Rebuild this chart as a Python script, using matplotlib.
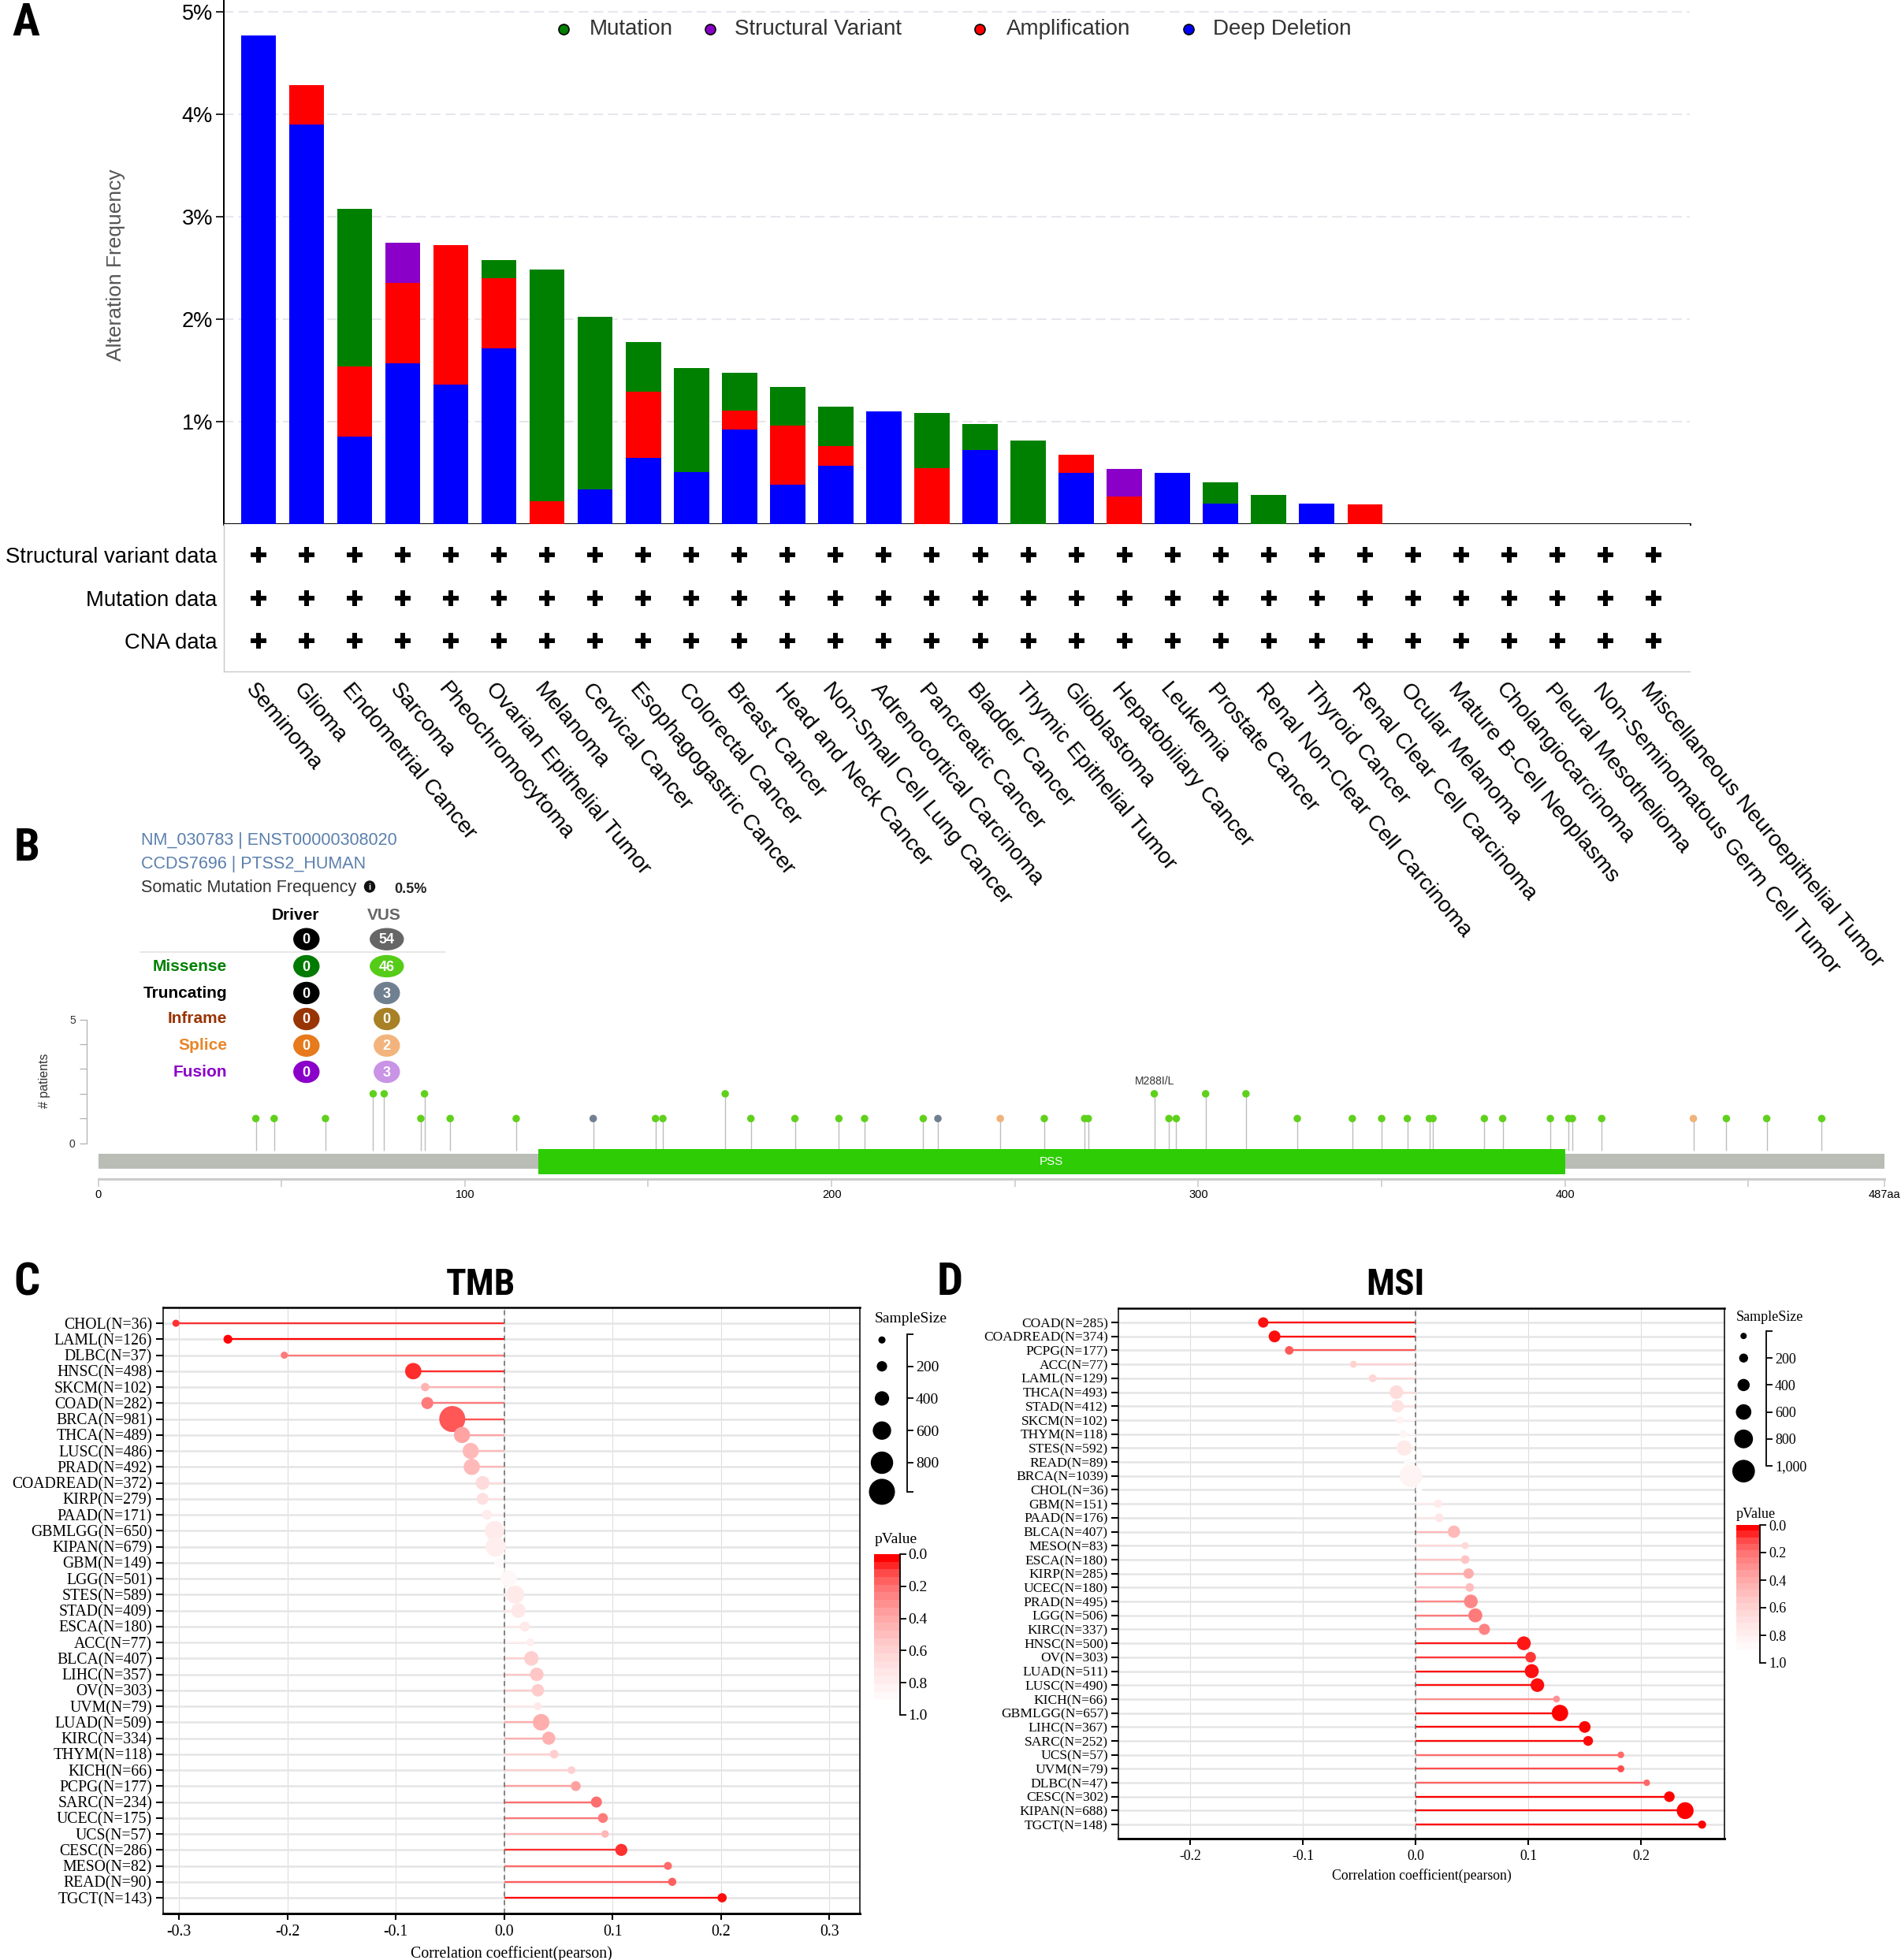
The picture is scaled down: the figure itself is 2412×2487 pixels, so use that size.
#!/usr/bin/env python3
"""Four-panel figure: cBioPortal alteration summary, lollipop, TMB / MSI correlations."""

import matplotlib

matplotlib.use("Agg")
import matplotlib.pyplot as plt
import numpy as np
from matplotlib import font_manager
from matplotlib.colors import LinearSegmentedColormap
from matplotlib.font_manager import FontProperties
from matplotlib.patches import Ellipse, Rectangle
from matplotlib.transforms import ScaledTranslation

W, H, DPI = 2412, 2487, 100

_fonts = font_manager.fontManager.ttflist
_names = {f.name for f in _fonts}
SANS = "Liberation Sans" if "Liberation Sans" in _names else "DejaVu Sans"
SERIF = "Liberation Serif" if "Liberation Serif" in _names else "DejaVu Serif"
plt.rcParams["font.family"] = [SANS, "DejaVu Sans"]


def _find_narrow_bold():
    """Path of a condensed bold sans face, if one is installed."""
    def is_bold(f):
        w = f.weight
        return (isinstance(w, (int, float)) and w >= 600) or str(w).lower() in ("bold", "heavy")
    cands = [f for f in _fonts
             if is_bold(f) and ("narrow" in f.fname.lower() or "condensed" in f.fname.lower()
                                or "narrow" in f.name.lower() or "condensed" in f.name.lower())
             and "oblique" not in f.fname.lower() and "italic" not in f.fname.lower()]
    order = ["liberation", "arial", "roboto", "dejavu", "open"]
    cands.sort(key=lambda f: next((i for i, k in enumerate(order) if k in f.fname.lower()), 9))
    return cands[0].fname if cands else None


_NARROW_PATH = _find_narrow_bold()


def narrow_bold(size):
    if _NARROW_PATH:
        return FontProperties(fname=_NARROW_PATH, size=size)
    return FontProperties(family=SANS, weight="bold", size=size * 0.88)


# ---------------------------------------------------------------- panel A data
CANCERS = [
    "Seminoma", "Glioma", "Endometrial Cancer", "Sarcoma", "Pheochromocytoma",
    "Ovarian Epithelial Tumor", "Melanoma", "Cervical Cancer", "Esophagogastric Cancer",
    "Colorectal Cancer", "Breast Cancer", "Head and Neck Cancer",
    "Non-Small Cell Lung Cancer", "Adrenocortical Carcinoma", "Pancreatic Cancer",
    "Bladder Cancer", "Thymic Epithelial Tumor", "Glioblastoma", "Hepatobiliary Cancer",
    "Leukemia", "Prostate Cancer", "Renal Non-Clear Cell Carcinoma", "Thyroid Cancer",
    "Renal Clear Cell Carcinoma", "Ocular Melanoma", "Mature B-Cell Neoplasms",
    "Cholangiocarcinoma", "Pleural Mesothelioma", "Non-Seminomatous Germ Cell Tumor",
    "Miscellaneous Neuroepithelial Tumor",
]
# alteration frequency (%) per alteration type, stacked in this order
DEEP_DELETION = [4.766, 3.897, 0.852, 1.566, 1.360, 1.713, 0.0, 0.336, 0.642, 0.505,
                 0.920, 0.381, 0.570, 1.100, 0.0, 0.724, 0.0, 0.501, 0.0, 0.494,
                 0.199, 0.0, 0.196, 0.0, 0.0, 0.0, 0.0, 0.0, 0.0, 0.0]
AMPLIFICATION = [0.0, 0.388, 0.686, 0.789, 1.363, 0.684, 0.223, 0.0, 0.646, 0.0,
                 0.189, 0.577, 0.192, 0.0, 0.542, 0.0, 0.0, 0.175, 0.268, 0.0,
                 0.0, 0.0, 0.0, 0.192, 0.0, 0.0, 0.0, 0.0, 0.0, 0.0]
STRUCTURAL_VARIANT = [0.0, 0.0, 0.0, 0.392, 0.0, 0.0, 0.0, 0.0, 0.0, 0.0,
                      0.0, 0.0, 0.0, 0.0, 0.0, 0.0, 0.0, 0.0, 0.268, 0.0,
                      0.0, 0.0, 0.0, 0.0, 0.0, 0.0, 0.0, 0.0, 0.0, 0.0]
MUTATION = [0.0, 0.0, 1.535, 0.0, 0.0, 0.175, 2.256, 1.686, 0.484, 1.013,
            0.367, 0.381, 0.378, 0.0, 0.543, 0.248, 0.814, 0.0, 0.0, 0.0,
            0.203, 0.285, 0.0, 0.0, 0.0, 0.0, 0.0, 0.0, 0.0, 0.0]
DATA_ROWS = ["Structural variant data", "Mutation data", "CNA data"]
DATA_AVAILABLE = [
    [1, 1, 1, 1, 1, 1, 1, 1, 1, 1, 1, 1, 1, 1, 1, 1, 1, 1, 1, 1, 1, 1, 1, 1, 1, 1, 1, 1, 1, 1],
    [1, 1, 1, 1, 1, 1, 1, 1, 1, 1, 1, 1, 1, 1, 1, 1, 1, 1, 1, 1, 1, 1, 1, 1, 1, 1, 1, 1, 1, 1],
    [1, 1, 1, 1, 1, 1, 1, 1, 1, 1, 1, 1, 1, 1, 1, 1, 1, 1, 1, 1, 1, 1, 1, 1, 1, 1, 1, 1, 1, 1],
]

# ---------------------------------------------------------------- panel B data
PROTEIN_LEN = 487
DOMAIN = ("PSS", 120, 400)
MUT_POS = [43, 48, 62, 75, 78, 88, 89, 96, 114, 135, 152, 154, 171, 178, 190, 202, 209,
           225, 229, 246, 258, 269, 270, 288, 292, 294, 302, 313, 327, 342, 350, 357,
           363, 364, 378, 383, 396, 401, 402, 410, 435, 444, 455, 470]
MUT_COUNT = [1, 1, 1, 2, 2, 1, 2, 1, 1, 1, 1, 1, 2, 1, 1, 1, 1,
             1, 1, 1, 1, 1, 1, 2, 1, 1, 2, 2, 1, 1, 1, 1,
             1, 1, 1, 1, 1, 1, 1, 1, 1, 1, 1, 1]
MUT_TYPE = ["mis", "mis", "mis", "mis", "mis", "mis", "mis", "mis", "mis", "trunc", "mis",
            "mis", "mis", "mis", "mis", "mis", "mis", "mis", "trunc", "splice", "mis", "mis",
            "mis", "mis", "mis", "mis", "mis", "mis", "mis", "mis", "mis", "mis", "mis", "mis",
            "mis", "mis", "mis", "mis", "mis", "mis", "splice", "mis", "mis", "mis"]
MUT_LABELS = {288: "M288I/L"}
TABLE_ROWS = ["", "Missense", "Truncating", "Inframe", "Splice", "Fusion"]
DRIVER_COUNTS = [0, 0, 0, 0, 0, 0]
VUS_COUNTS = [54, 46, 3, 0, 2, 3]

# ---------------------------------------------------------------- panel C data
TMB_TYPES = ["CHOL", "LAML", "DLBC", "HNSC", "SKCM", "COAD", "BRCA", "THCA", "LUSC", "PRAD",
             "COADREAD", "KIRP", "PAAD", "GBMLGG", "KIPAN", "GBM", "LGG", "STES", "STAD",
             "ESCA", "ACC", "BLCA", "LIHC", "OV", "UVM", "LUAD", "KIRC", "THYM", "KICH",
             "PCPG", "SARC", "UCEC", "UCS", "CESC", "MESO", "READ", "TGCT"]
TMB_N = [36, 126, 37, 498, 102, 282, 981, 489, 486, 492, 372, 279, 171, 650, 679, 149, 501,
         589, 409, 180, 77, 407, 357, 303, 79, 509, 334, 118, 66, 177, 234, 175, 57, 286,
         82, 90, 143]
TMB_R = [-0.303, -0.255, -0.203, -0.084, -0.073, -0.071, -0.048, -0.039, -0.031, -0.030,
         -0.020, -0.020, -0.016, -0.009, -0.008, -0.005, 0.004, 0.010, 0.013, 0.019, 0.024,
         0.025, 0.030, 0.031, 0.031, 0.034, 0.041, 0.046, 0.062, 0.066, 0.085, 0.091, 0.093,
         0.108, 0.151, 0.155, 0.201]
TMB_P = [0.07, 0.004, 0.23, 0.06, 0.47, 0.23, 0.13, 0.39, 0.50, 0.50, 0.70, 0.74, 0.83,
         0.82, 0.84, 0.95, 0.93, 0.81, 0.79, 0.80, 0.84, 0.62, 0.57, 0.59, 0.79, 0.44, 0.45,
         0.62, 0.62, 0.38, 0.19, 0.23, 0.49, 0.07, 0.18, 0.15, 0.016]

# ---------------------------------------------------------------- panel D data
MSI_TYPES = ["COAD", "COADREAD", "PCPG", "ACC", "LAML", "THCA", "STAD", "SKCM", "THYM",
             "STES", "READ", "BRCA", "CHOL", "GBM", "PAAD", "BLCA", "MESO", "ESCA", "KIRP",
             "UCEC", "PRAD", "LGG", "KIRC", "HNSC", "OV", "LUAD", "LUSC", "KICH", "GBMLGG",
             "LIHC", "SARC", "UCS", "UVM", "DLBC", "CESC", "KIPAN", "TGCT"]
MSI_N = [285, 374, 177, 77, 129, 493, 412, 102, 118, 592, 89, 1039, 36, 151, 176, 407, 83,
         180, 285, 180, 495, 506, 337, 500, 303, 511, 490, 66, 657, 367, 252, 57, 79, 47,
         302, 688, 148]
MSI_R = [-0.135, -0.125, -0.112, -0.055, -0.038, -0.017, -0.016, -0.014, -0.011, -0.010,
         -0.007, -0.004, 0.003, 0.020, 0.021, 0.034, 0.044, 0.044, 0.047, 0.048, 0.049,
         0.053, 0.061, 0.096, 0.102, 0.103, 0.108, 0.125, 0.128, 0.150, 0.153, 0.182, 0.182,
         0.205, 0.225, 0.239, 0.254]
MSI_P = [0.023, 0.016, 0.14, 0.63, 0.67, 0.71, 0.75, 0.89, 0.91, 0.81, 0.95, 0.90, 0.99,
         0.81, 0.78, 0.50, 0.69, 0.56, 0.43, 0.52, 0.28, 0.23, 0.26, 0.032, 0.076, 0.020,
         0.017, 0.32, 0.001, 0.004, 0.015, 0.18, 0.11, 0.17, 0.0001, 0.0, 0.002]

P_CMAP = LinearSegmentedColormap.from_list(
    "pvalue",
    [(0.0, "#ff0000"), (0.1, "#ff4a4a"), (0.2, "#ff7373"), (0.4, "#ffa6a6"),
     (0.6, "#ffcccc"), (0.8, "#ffe9e9"), (1.0, "#ffffff")],
)

fig = plt.figure(figsize=(W / DPI, H / DPI), dpi=DPI)


def px_axes(left, top, right, bottom):
    return fig.add_axes([left / W, 1 - bottom / H, (right - left) / W, (bottom - top) / H])


def pt(px):
    return px * 72 / DPI


# ================================================================ panel A
x = np.arange(len(CANCERS))
ax = px_axes(284, 1, 2143.5, 664.7)
bottom = np.zeros(len(CANCERS))
series = [
    ("Deep Deletion", DEEP_DELETION, "#0000ff"),
    ("Amplification", AMPLIFICATION, "#ff0000"),
    ("Structural Variant", STRUCTURAL_VARIANT, "#8a00c8"),
    ("Mutation", MUTATION, "#008000"),
]
for _, vals, color in series:
    vals = np.asarray(vals)
    ax.bar(x, vals, 0.73, bottom=bottom, color=color, zorder=3)
    bottom += vals
ax.set_xlim(-0.72, 29.745)
ax.set_ylim(0, 5.105)
ax.set_yticks([1, 2, 3, 4, 5])
ax.set_yticklabels([f"{v}%" for v in [1, 2, 3, 4, 5]])
ax.tick_params(axis="y", length=pt(10), width=1.2, pad=pt(4), labelsize=19.5)
ax.set_xticks(x)
ax.set_xticklabels(CANCERS, fontsize=2.5)
ax.tick_params(axis="x", length=0, pad=2)
ax.yaxis.grid(True, ls=(0, (6, 3)), color="#e6e7ec", lw=1.5)
ax.set_axisbelow(True)
for s in ("top", "right"):
    ax.spines[s].set_visible(False)
ax.spines["bottom"].set_linewidth(pt(3))
ax.spines["left"].set_linewidth(pt(2))
ax.set_ylabel("Alteration Frequency", fontsize=19, color="#555555")
ax.yaxis.set_label_coords((159 - 284) / 1859.5, (664.7 - 336) / 663.7)

# data-availability matrix
mx = px_axes(284, 665, 2143.5, 851.7)
for r, row in enumerate(DATA_AVAILABLE):
    cols = [c for c, v in enumerate(row) if v]
    mx.scatter(cols, [r] * len(cols), marker="P", s=pt(20) ** 2, color="black",
               linewidths=0, zorder=3)
mx.set_xlim(-0.72, 29.745)
mx.set_ylim(2.71, -0.716)
mx.set_yticks(range(len(DATA_ROWS)))
mx.set_yticklabels(DATA_ROWS, fontsize=19.8)
mx.tick_params(axis="y", length=0, pad=pt(9))
mx.set_xticks(x)
mx.set_xticklabels(CANCERS, rotation=-50, ha="left", va="top", rotation_mode="anchor",
                   fontsize=20.3)
mx.tick_params(axis="x", length=0, pad=pt(10))
shift = ScaledTranslation(-2 / DPI, 0, fig.dpi_scale_trans)
for lab in mx.get_xticklabels():
    lab.set_transform(lab.get_transform() + shift)
for s in ("top", "right"):
    mx.spines[s].set_visible(False)
for s in ("left", "bottom"):
    mx.spines[s].set_color("#c8c8c8")
    mx.spines[s].set_linewidth(1.0)

# ================================================================ panel B
aa_px = 4.653   # pixels per residue
pat_px = 31.4   # pixels per patient
lx = px_axes(109.7, 1280, 2400, 1530)
lx.set_xlim((109.7 - 124.5) / aa_px, (2400 - 124.5) / aa_px)
lx.set_ylim((1450.7 - 1530) / pat_px, (1450.7 - 1280) / pat_px)
type_color = {"mis": "#5fd11c", "trunc": "#708090", "splice": "#f0b27a"}
lx.vlines(MUT_POS, -0.3, MUT_COUNT, color="#bdbdbd", lw=1.0, zorder=1)
for t, c in type_color.items():
    sel = [i for i, tt in enumerate(MUT_TYPE) if tt == t]
    lx.scatter([MUT_POS[i] for i in sel], [MUT_COUNT[i] for i in sel], s=pt(9.5) ** 2,
               color=c, edgecolors="none", zorder=4)
for pos, txt in MUT_LABELS.items():
    h = MUT_COUNT[MUT_POS.index(pos)]
    lx.text(pos, h + 0.5, txt, ha="center", va="center", fontsize=10, color="#333333")
lx.add_patch(Rectangle((0, -1.038), PROTEIN_LEN, 0.605, color="#babdb6", lw=0, zorder=2))
name, d0, d1 = DOMAIN
lx.add_patch(Rectangle((d0, -1.261), d1 - d0, 1.038, color="#2ecc05", lw=0, zorder=3))
lx.text((d0 + d1) / 2, -0.742, name, color="white", ha="center", va="center",
        fontsize=11, zorder=5)
lx.set_yticks(range(6))
lx.set_yticklabels(["0", "", "", "", "", "5"])
lx.tick_params(axis="y", length=pt(9), width=0.8, color="#aaaaaa", labelsize=10,
               labelcolor="#333333", pad=pt(5))
lx.set_xticks([0, 100, 200, 300, 400, PROTEIN_LEN])
lx.set_xticklabels(["0", "100", "200", "300", "400", f"{PROTEIN_LEN}aa"])
lx.set_xticks([50, 150, 250, 350, 450], minor=True)
lx.tick_params(axis="x", which="both", length=pt(10), width=1.2, color="#cccccc",
               labelsize=10.5, pad=pt(3))
lx.spines["left"].set_bounds(0, 5)
lx.spines["left"].set_color("#aaaaaa")
lx.spines["left"].set_linewidth(0.8)
lx.spines["bottom"].set_position(("data", -1.44))
lx.spines["bottom"].set_bounds(0, PROTEIN_LEN)
lx.spines["bottom"].set_color("#cccccc")
lx.spines["bottom"].set_linewidth(pt(3))
for s in ("top", "right"):
    lx.spines[s].set_visible(False)
lx.set_ylabel("# patients", fontsize=11.5, color="#333333")
lx.yaxis.set_label_coords((64 - 109.7) / 2290.3, (1530 - 1371.7) / 250)


# ================================================================ panels C, D
def dot_area(n, n_lo, n_hi, d_lo, d_hi):
    d = d_lo + (np.asarray(n, dtype=float) - n_lo) / (n_hi - n_lo) * (d_hi - d_lo)
    return pt(d) ** 2


def corr_panel(box, names, ns, r, p, xlim, ylim, xticks, label_fs, tick_fs, dsize, pads):
    ax = px_axes(*box)
    y = np.arange(len(names))
    ax.hlines(y, 0, r, colors=P_CMAP(np.asarray(p)), lw=1.65, zorder=2)
    ax.scatter(r, y, s=dot_area(ns, min(ns), max(ns), *dsize), c=p, cmap=P_CMAP,
               vmin=0, vmax=1, edgecolors="none", zorder=3)
    ax.axvline(0, color="#666666", lw=1.1, ls=(0, (4, 3)), zorder=2.5)
    ax.set_xlim(*xlim)
    ax.set_ylim(*ylim)
    ax.set_yticks(y)
    ax.set_yticklabels([f"{a}(N={b})" for a, b in zip(names, ns)], family=SERIF)
    ax.set_xticks(xticks)
    ax.set_xticklabels([f"{t:.1f}" for t in xticks], family=SERIF)
    ax.grid(axis="y", color="#e5e5e5", lw=1.8)
    ax.grid(axis="x", color="#dedede", lw=0.8)
    ax.set_axisbelow(True)
    ax.tick_params(axis="y", length=pt(9), width=1.5, pad=pt(pads[0]), labelsize=label_fs)
    ax.tick_params(axis="x", length=pt(8), width=1.5, pad=pt(pads[1]), labelsize=tick_fs)
    ax.spines["top"].set_linewidth(pt(2.5))
    ax.spines["bottom"].set_linewidth(pt(3))
    ax.spines["left"].set_linewidth(1.1)
    ax.spines["right"].set_linewidth(1.1)
    ax.set_xlabel("Correlation coefficient(pearson)", family=SERIF, fontsize=tick_fs,
                  labelpad=pt(pads[2]))
    return ax


def size_legend(box, values, ymax, ticks, bracket_end, dot_frac, dsize, n_range, fs):
    lax = px_axes(*box)
    lax.scatter([dot_frac] * len(values), values, s=dot_area(values, *n_range, *dsize),
                color="black", edgecolors="none", clip_on=False)
    lax.set_xlim(0, 1)
    lax.set_ylim(ymax, 0)
    for s in ("top", "left", "bottom"):
        lax.spines[s].set_visible(False)
    lax.spines["right"].set_bounds(0, bracket_end)
    lax.spines["right"].set_linewidth(1.3)
    lax.set_xticks([])
    lax.yaxis.tick_right()
    tv = [0] + ticks + ([bracket_end] if bracket_end not in ticks else [])
    lax.set_yticks(tv)
    lax.set_yticklabels([f"{t:,}" if t in ticks else "" for t in tv], family=SERIF)
    lax.tick_params(axis="y", length=pt(8), width=1.3, labelsize=fs, pad=pt(3))


def p_colorbar(box, fs):
    cax = px_axes(*box)
    cax.imshow(np.linspace(0, 1, 20)[:, None], cmap=P_CMAP, vmin=0, vmax=1, aspect="auto",
               extent=(0, 1, 0.95, 0), interpolation="nearest")
    cax.set_xlim(0, 1)
    cax.set_ylim(1, 0)
    for s in ("top", "left", "bottom"):
        cax.spines[s].set_visible(False)
    cax.spines["right"].set_linewidth(1.3)
    cax.set_xticks([])
    cax.yaxis.tick_right()
    ticks = [0.0, 0.2, 0.4, 0.6, 0.8, 1.0]
    cax.set_yticks(ticks)
    cax.set_yticklabels([f"{t:.1f}" for t in ticks], family=SERIF)
    cax.tick_params(axis="y", length=pt(8), width=1.3, labelsize=fs, pad=pt(3))


corr_panel((207, 1659, 1090.8, 2427.7), TMB_TYPES, TMB_N, TMB_R, TMB_P,
           (-0.3148, 0.328), (36.97, -0.99), [-0.3, -0.2, -0.1, 0.0, 0.1, 0.2, 0.3],
           14.2, 14.3, (9, 33), (5, 6, 8))
size_legend((1100, 1692.9, 1151, 1892.9), [36, 200, 400, 600, 800, 981], 981,
            [200, 400, 600, 800], 981, 0.373, (9, 33), (36, 981), 14)
p_colorbar((1109.3, 1972, 1141.7, 2176), 14)

corr_panel((1419.4, 1660, 2188.2, 2332.7), MSI_TYPES, MSI_N, MSI_R, MSI_P,
           (-0.2632, 0.274), (36.99, -1.02), [-0.2, -0.1, 0.0, 0.1, 0.2],
           12.6, 12.8, (8, 28.7), (4.5, 6, 7))
size_legend((2195, 1689, 2241, 1866.7), [36, 200, 400, 600, 800, 1039], 1039,
            [200, 400, 600, 800, 1000], 1000, 0.376, (8, 28.7), (36, 1039), 13)
p_colorbar((2203, 1935, 2233, 2110), 13)

# ================================================================ overlay text
ov = fig.add_axes([0, 0, 1, 1])
ov.set_xlim(0, W)
ov.set_ylim(H, 0)
ov.axis("off")

for letter, lx_, ly_ in [("A", 15, 44.6), ("B", 18, 1091.7), ("C", 17.5, 1644),
                         ("D", 1188.6, 1642.7)]:
    ov.text(lx_, ly_, letter, fontproperties=narrow_bold(42), va="baseline")
ov.text(610, 1642.7, "TMB", fontproperties=narrow_bold(34), ha="center", va="baseline")
ov.text(1770.8, 1642.7, "MSI", fontproperties=narrow_bold(34), ha="center", va="baseline")

# panel A legend
for (label, _, color), mxp, txp in zip(
        [series[3], series[2], series[1], series[0]],
        [715, 901, 1243, 1507.5], [748, 932, 1276.6, 1539]):
    ov.plot([mxp], [37], "o", ms=pt(13), mfc=color, mec="black", mew=1.2)
    ov.text(txp, 37, label, fontsize=20, color="#333333", va="center")

# panel C / D legend titles
for tx, ty, txt, fs in [(1110, 1674, "SampleSize", 14), (1110, 1954, "pValue", 14),
                        (2203, 1672, "SampleSize", 13), (2203, 1922, "pValue", 13)]:
    ov.text(tx, ty, txt, family=SERIF, fontsize=fs, va="center")

# panel B header
ov.text(178.6, 1071.7, "NM_030783 | ENST00000308020", color="#5b80ad", fontsize=15.5,
        va="baseline")
ov.text(178.6, 1101.7, "CCDS7696 | PTSS2_HUMAN", color="#5b80ad", fontsize=15.5,
        va="baseline")
ov.text(178.6, 1131.7, "Somatic Mutation Frequency", color="#333333", fontsize=15.5,
        va="baseline")
ov.add_patch(Ellipse((469, 1125), 13, 14, color="#111111"))
ov.text(469, 1126, "i", color="white", fontsize=8, fontweight="bold", ha="center",
        va="center")
ov.text(500, 1133, "0.5%", color="#222222", fontsize=13, fontweight="bold", va="baseline")
ov.text(375, 1166.7, "Driver", fontsize=15, fontweight="bold", ha="center", va="baseline")
ov.text(487, 1166.7, "VUS", fontsize=15, fontweight="bold", color="#666666", ha="center",
        va="baseline")
ov.plot([178, 565], [1208, 1208], color="#e3e3e3", lw=1.2)

row_y = [1191.7, 1226, 1260, 1293, 1326.7, 1360]
label_colors = ["black", "#008000", "#000000", "#993404", "#e8862a", "#8b00c9"]
driver_colors = ["#000000", "#007a00", "#000000", "#993404", "#e67a1c", "#8b00c9"]
vus_colors = ["#666666", "#55cc18", "#708090", "#a88026", "#f2b47c", "#c993e6"]
for name, dv, vv, yy, lc, dc, vc in zip(TABLE_ROWS, DRIVER_COUNTS, VUS_COUNTS, row_y,
                                        label_colors, driver_colors, vus_colors):
    if name:
        ov.text(288, yy, name, fontsize=15, fontweight="bold", color=lc, ha="right",
                va="center")
    for cx, val, col in [(388.8, dv, dc), (490.8, vv, vc)]:
        txt = str(val)
        ov.add_patch(Ellipse((cx, yy), 22 + 10 * len(txt), 27, color=col))
        ov.text(cx, yy + 1, txt, color="white", fontsize=13, fontweight="bold",
                ha="center", va="center")

fig.savefig("out.png", dpi=DPI)
